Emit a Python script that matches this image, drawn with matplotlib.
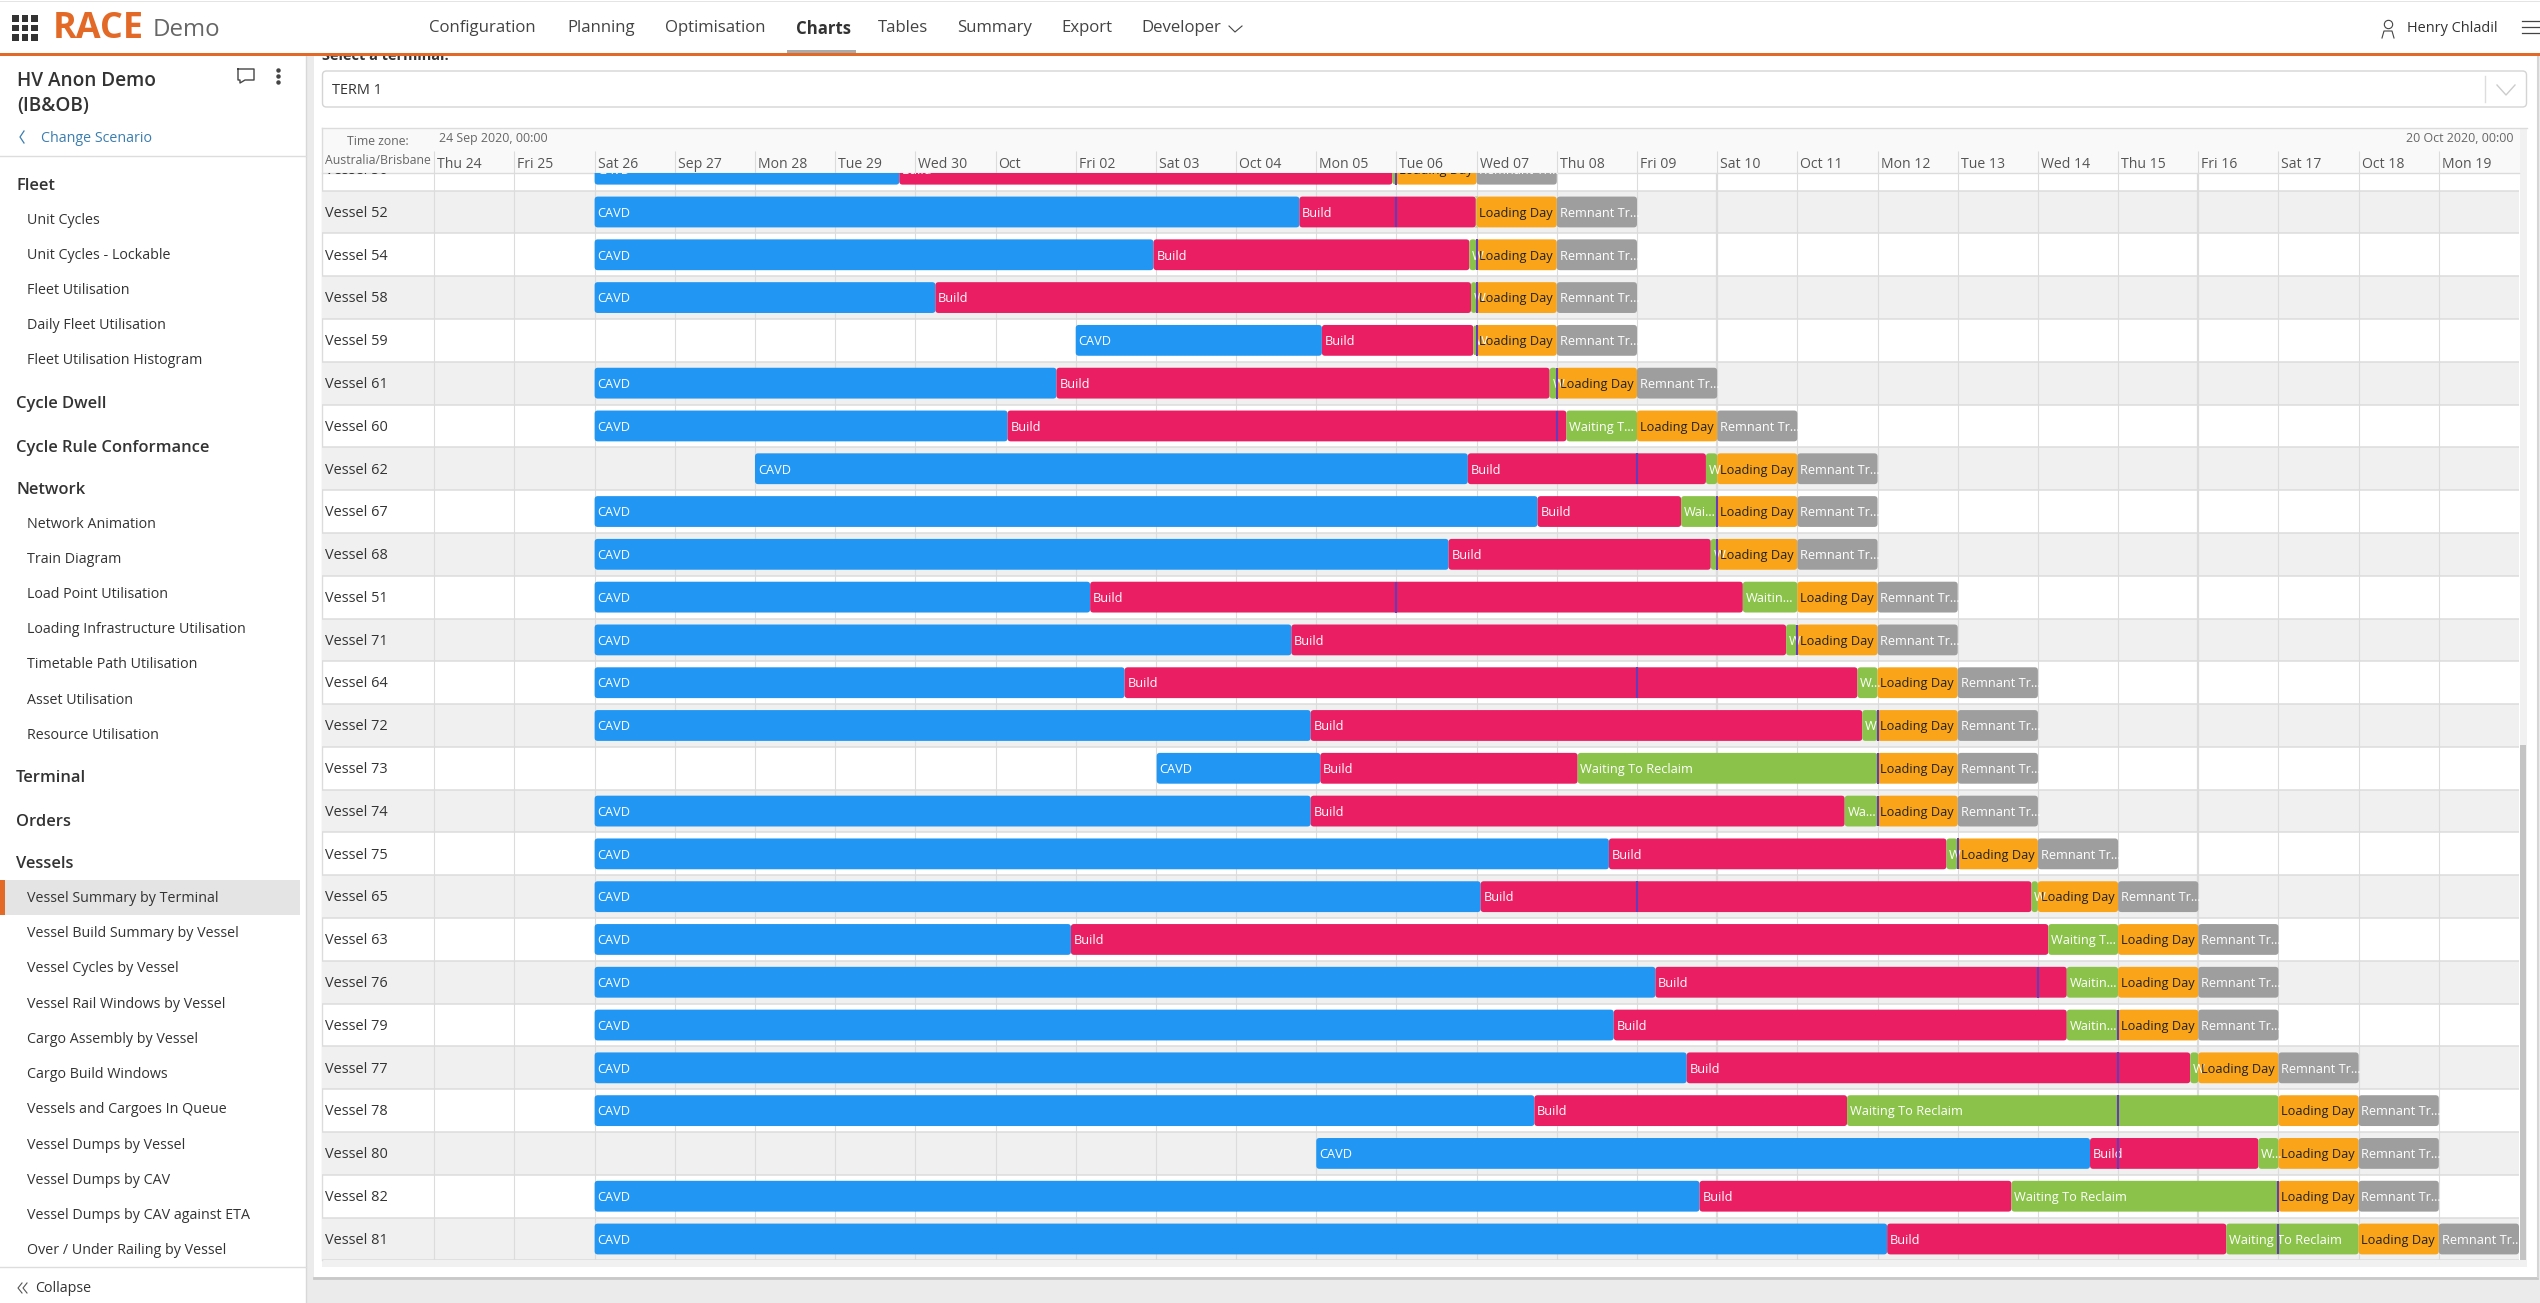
import matplotlib
matplotlib.use('Agg')
import matplotlib.pyplot as plt
from matplotlib.patches import Rectangle, FancyBboxPatch
from matplotlib.transforms import ScaledTranslation

plt.rcParams['font.family'] = ['Open Sans', 'DejaVu Sans']

# gantt data, all times in days after 24 Sep 2020 00:00
vessels = ['Vessel 50', 'Vessel 52', 'Vessel 54', 'Vessel 58', 'Vessel 59', 'Vessel 61', 'Vessel 60',
           'Vessel 62', 'Vessel 67', 'Vessel 68', 'Vessel 51', 'Vessel 71', 'Vessel 64', 'Vessel 72',
           'Vessel 73', 'Vessel 74', 'Vessel 75', 'Vessel 65', 'Vessel 63', 'Vessel 76', 'Vessel 79',
           'Vessel 77', 'Vessel 78', 'Vessel 80', 'Vessel 82', 'Vessel 81']
cavd_start = [2, 2, 2, 2, 8, 2, 2, 4, 2, 2, 2, 2, 2, 2, 9.01, 2, 2, 2, 2, 2, 2, 2, 2, 11, 2, 2]
build_start = [5.8, 10.79, 8.97, 6.25, 11.07, 7.76, 7.15, 12.89, 13.76, 12.65, 8.18, 10.69, 8.61,
               10.93, 11.05, 10.93, 14.65, 13.05, 7.94, 15.23, 14.71, 15.62, 13.72, 20.65, 15.78, 18.12]
wait_start = [11.95, 12.99, 12.91, 12.93, 12.96, 13.91, 14.12, 15.86, 15.55, 15.92, 16.32, 16.86, 17.75,
              17.81, 14.26, 17.59, 18.86, 19.92, 20.13, 20.36, 20.36, 21.9, 17.62, 22.75, 19.67, 22.35]
load_start = [12, 13, 13, 13, 13, 14, 15, 16, 16, 16, 17, 17, 18, 18, 18, 18, 19, 20, 21, 21, 21, 22,
              23, 23, 23, 24]
wait_labels = ['', '', 'W', 'W', 'W', 'W', 'Waiting T...', 'W', 'Wai...', 'W', 'Waitin...', 'W', 'W...',
               'W', 'Waiting To Reclaim', 'Wa...', 'W', 'W', 'Waiting T...', 'Waitin...', 'Waitin...', 'W',
               'Waiting To Reclaim', 'W...', 'Waiting To Reclaim', 'Waiting To Reclaim']
marker_day = [12, 12, 13, 13, 13, 14, 14, 15, 16, 16, 12, 17, 15, 18, 18, 18, 19, 15, None, 20, 21, 21,
              21, 21, 23, 23]
day_labels = ['Thu 24', 'Fri 25', 'Sat 26', 'Sep 27', 'Mon 28', 'Tue 29', 'Wed 30', 'Oct', 'Fri 02', 'Sat 03',
              'Oct 04', 'Mon 05', 'Tue 06', 'Wed 07', 'Thu 08', 'Fri 09', 'Sat 10', 'Oct 11', 'Mon 12',
              'Tue 13', 'Wed 14', 'Thu 15', 'Fri 16', 'Sat 17', 'Oct 18', 'Mon 19']

nav_items = ['Configuration', 'Planning', 'Optimisation', 'Charts', 'Tables', 'Summary', 'Export', 'Developer']
nav_x = [429, 567, 665, 796, 878, 957, 1061, 1141]

side_heads = ['Fleet', 'Cycle Dwell', 'Cycle Rule Conformance', 'Network', 'Terminal', 'Orders', 'Vessels']
side_head_y = [185, 403, 446, 489, 777, 820, 863]
side_items = ['Unit Cycles', 'Unit Cycles - Lockable', 'Fleet Utilisation', 'Daily Fleet Utilisation',
              'Fleet Utilisation Histogram', 'Network Animation', 'Train Diagram', 'Load Point Utilisation',
              'Loading Infrastructure Utilisation', 'Timetable Path Utilisation', 'Asset Utilisation',
              'Resource Utilisation', 'Vessel Summary by Terminal', 'Vessel Build Summary by Vessel',
              'Vessel Cycles by Vessel', 'Vessel Rail Windows by Vessel', 'Cargo Assembly by Vessel',
              'Cargo Build Windows', 'Vessels and Cargoes In Queue', 'Vessel Dumps by Vessel',
              'Vessel Dumps by CAV', 'Vessel Dumps by CAV against ETA', 'Over / Under Railing by Vessel']
side_item_y = [219, 254, 289, 324, 359, 523, 558, 593, 628, 663, 699, 734, 897, 932, 967, 1003, 1038,
               1073, 1108, 1144, 1179, 1214, 1249]

BLUE = '#2196f3'
PINK = '#e91e63'
GREEN = '#8bc34a'
ORANGE = '#faa41a'
GREY = '#9e9e9e'
PURPLE = '#673ab7'
ACCENT = '#e26a26'
TEXT = '#333333'
GRID = '#dcdcdc'


def px(size):
    # css pixels to points at dpi 100
    return size * 0.72


fig = plt.figure(figsize=(25.4, 13.03), dpi=100, facecolor='#ebebeb')

# page furniture is drawn in pixel coordinates
ui = fig.add_axes([0, 0, 1, 1])
ui.set_xlim(0, 2540)
ui.set_ylim(1303, 0)
ui.axis('off')


def box(x0, y0, x1, y1, color, z=1, **kw):
    ui.add_patch(Rectangle((x0, y0), x1 - x0, y1 - y0, facecolor=color, edgecolor='none', zorder=z, **kw))


def label(x, y, s, size=14.5, color=TEXT, z=3, **kw):
    kw.setdefault('va', 'center')
    ui.text(x, y + 1.5, s, fontsize=px(size), color=color, zorder=z, **kw)


# main card
box(314, 53, 2537, 1277, 'white')
ui.plot([314, 2537], [1278, 1278], color='#c8c8c8', lw=2, zorder=1)
ui.plot([2538, 2538], [56, 1277], color='#d5d5d5', lw=1.5, zorder=1)

# sidebar
box(0, 0, 306, 1303, 'white')
ui.plot([306, 306], [56, 1303], color='#d8d8d8', lw=1, zorder=2)
label(17, 79, 'HV Anon Demo', size=19, fontweight='semibold')
label(17, 105, '(IB&OB)', size=19, fontweight='semibold')
ui.plot([24, 20, 24], [131, 137, 143], color='#3b7db0', lw=0.9, zorder=3)
label(41, 137, 'Change Scenario', size=14.2, color='#3b7db0')
ui.plot([0, 306], [156, 156], color='#dddddd', lw=1, zorder=2)
# comment bubble and menu dots
ui.plot([238, 254, 254, 245, 240, 240, 238, 238], [69, 69, 80, 80, 83, 80, 80, 69], color='#444444', lw=1, zorder=3)
ui.plot([277.5] * 3, [70, 76, 82], ls='none', marker='o', ms=2.2, color='#444444', zorder=3)

for name, y in zip(side_heads, side_head_y):
    label(16, y, name, size=16.5, fontweight='semibold')
box(0, 880, 300, 915, '#e4e4e4', z=2)
box(0, 880, 5, 915, ACCENT, z=2.5)
for name, y in zip(side_items, side_item_y):
    label(27, y, name, size=14.2)
ui.plot([0, 306], [1267, 1267], color='#dddddd', lw=1, zorder=2)
ui.plot([22, 18, 22], [1283, 1288, 1293], color='#555555', lw=0.8, zorder=3)
ui.plot([27, 23, 27], [1283, 1288, 1293], color='#555555', lw=0.8, zorder=3)
label(35, 1287, 'Collapse', size=14.2)

# terminal selector, its caption runs under the top bar
label(322, 55, 'Select a terminal:', size=14.5, fontweight='bold', z=1.5)
ui.add_patch(FancyBboxPatch((322.5, 71), 2204, 36, boxstyle='round,pad=0,rounding_size=4',
                            facecolor='white', edgecolor='#d4d4d4', lw=1, zorder=2))
label(332, 89, 'TERM 1', size=14.5)
ui.plot([2485, 2485], [76, 102], color='#dddddd', lw=1, zorder=3)
ui.plot([2497, 2506, 2515], [85, 95, 85], color='#cccccc', lw=1, zorder=3)

# chart header strip
box(322, 128, 2527, 173, '#f9f9f9')
ui.plot([322, 2527], [128, 128], color='#dcdcdc', lw=1, zorder=2)
ui.plot([322, 322], [128, 1260], color='#dcdcdc', lw=1, zorder=2)
ui.plot([322, 2519], [173, 173], color='#dcdcdc', lw=1, zorder=2)
label(378, 140, 'Time zone:', size=12.3, color='#666666', ha='center')
label(378, 159, 'Australia/Brisbane', size=12.3, color='#666666', ha='center')
label(439, 137, '24 Sep 2020, 00:00', size=12.4, color='#666666')
label(2514, 137, '20 Oct 2020, 00:00', size=12.4, color='#666666', ha='right')

# strip under the rows and scrollbar
box(322, 1260, 2527, 1267, '#f1f1f1')
box(2520, 128, 2527, 1267, '#f1f1f1')
box(2520, 745, 2526, 1260, '#c4c4c4', z=2)

# top bar goes over the caption
box(0, 0, 2540, 53, 'white', z=2)
box(0, 1, 2540, 2, '#e4e4e4', z=2.2)
box(0, 53, 2540, 56, ACCENT, z=2.4)
for i in range(3):
    for j in range(3):
        box(12 + 9.5 * i, 15 + 9.5 * j, 18.5 + 9.5 * i, 21.5 + 9.5 * j, '#333333', z=3)
label(53, 27, 'RACE', size=36, color=ACCENT, fontweight='bold')
label(153, 29, 'Demo', size=24, color='#666666')
for name, x in zip(nav_items, nav_x):
    if name == 'Charts':
        label(x, 27, name, size=16.7, fontweight='bold')
    else:
        label(x, 27, name, size=16.7, color='#444444')
box(787, 50, 856, 53, '#aaaaaa', z=3)
ui.plot([1229, 1235, 1242], [26, 32, 26], color='#444444', lw=0.8, zorder=3)
ui.plot([2388], [24], marker='o', ms=6, mfc='none', mec='#444444', mew=0.8, zorder=3)
ui.plot([2382, 2384, 2392, 2394], [38, 31, 31, 38], color='#444444', lw=0.8, zorder=3)
label(2407, 27, 'Henry Chladil', size=14.5)
for y in (21, 27, 33):
    ui.plot([2522, 2540], [y, y], color='#444444', lw=0.9, zorder=3)

# the chart itself
ax = fig.add_axes([322 / 2540, 1 - 1260.4 / 1303, (2519 - 322) / 2540, (1260.4 - 173) / 1303])
ax.patch.set_visible(False)
ax.set_xlim(-1.4, 26)
ax.set_ylim(25.5, 0.089)
for side in ax.spines.values():
    side.set_visible(False)
ax.set_yticks([])

ax.xaxis.tick_top()
ax.set_xticks(range(len(day_labels)))
ax.set_xticklabels(day_labels, fontsize=px(14), color='#555555', ha='left')
ax.tick_params(axis='x', length=px(22), width=0.8, color=GRID, pad=-px(21.5))
for tick in ax.get_xticklabels():
    tick.set_transform(tick.get_transform() + ScaledTranslation(3 / 100, 0, fig.dpi_scale_trans))

BAR_H = 0.72
rows = range(len(vessels))
for row in rows:
    if (row - 1) % 2 == 0:
        ax.axhspan(row - 0.5, row + 0.5, color='#f0f0f0', lw=0, zorder=0)
    ax.axhline(row + 0.5, color=GRID, lw=1.1, zorder=1)
for day in range(26):
    ax.axvline(day, color=GRID, lw=1.6 if day in (16, 22) else 0.8, zorder=1)


def segment(row, start, end, color, text, text_color='white'):
    bar = FancyBboxPatch((start, row - BAR_H / 2), end - start, BAR_H,
                         boxstyle='round,pad=0,rounding_size=0.04', mutation_aspect=1.87,
                         facecolor=color, edgecolor='none', zorder=2)
    ax.add_patch(bar)
    if text:
        t = ax.text(start + 0.035, row + 0.03, text, fontsize=px(12.7), color=text_color,
                    va='center', zorder=3, clip_on=True)
        t.set_clip_path(bar)


for row in rows:
    ax.text(-1.36, row + 0.03, vessels[row], fontsize=px(14.5), color=TEXT, va='center', zorder=3, clip_on=True)
    load = load_start[row]
    segment(row, cavd_start[row], build_start[row], BLUE, 'CAVD')
    segment(row, build_start[row], wait_start[row], PINK, 'Build')
    if wait_start[row] < load:
        segment(row, wait_start[row], load, GREEN, wait_labels[row])
    segment(row, load, load + 1, ORANGE, 'Loading Day', '#222222')
    segment(row, load + 1, load + 2, GREY, 'Remnant Tr...')
    if marker_day[row] is not None:
        ax.vlines(marker_day[row], row - BAR_H / 2, row + BAR_H / 2, color=PURPLE, lw=1.5, zorder=4)

fig.savefig('out.png', dpi=100)
